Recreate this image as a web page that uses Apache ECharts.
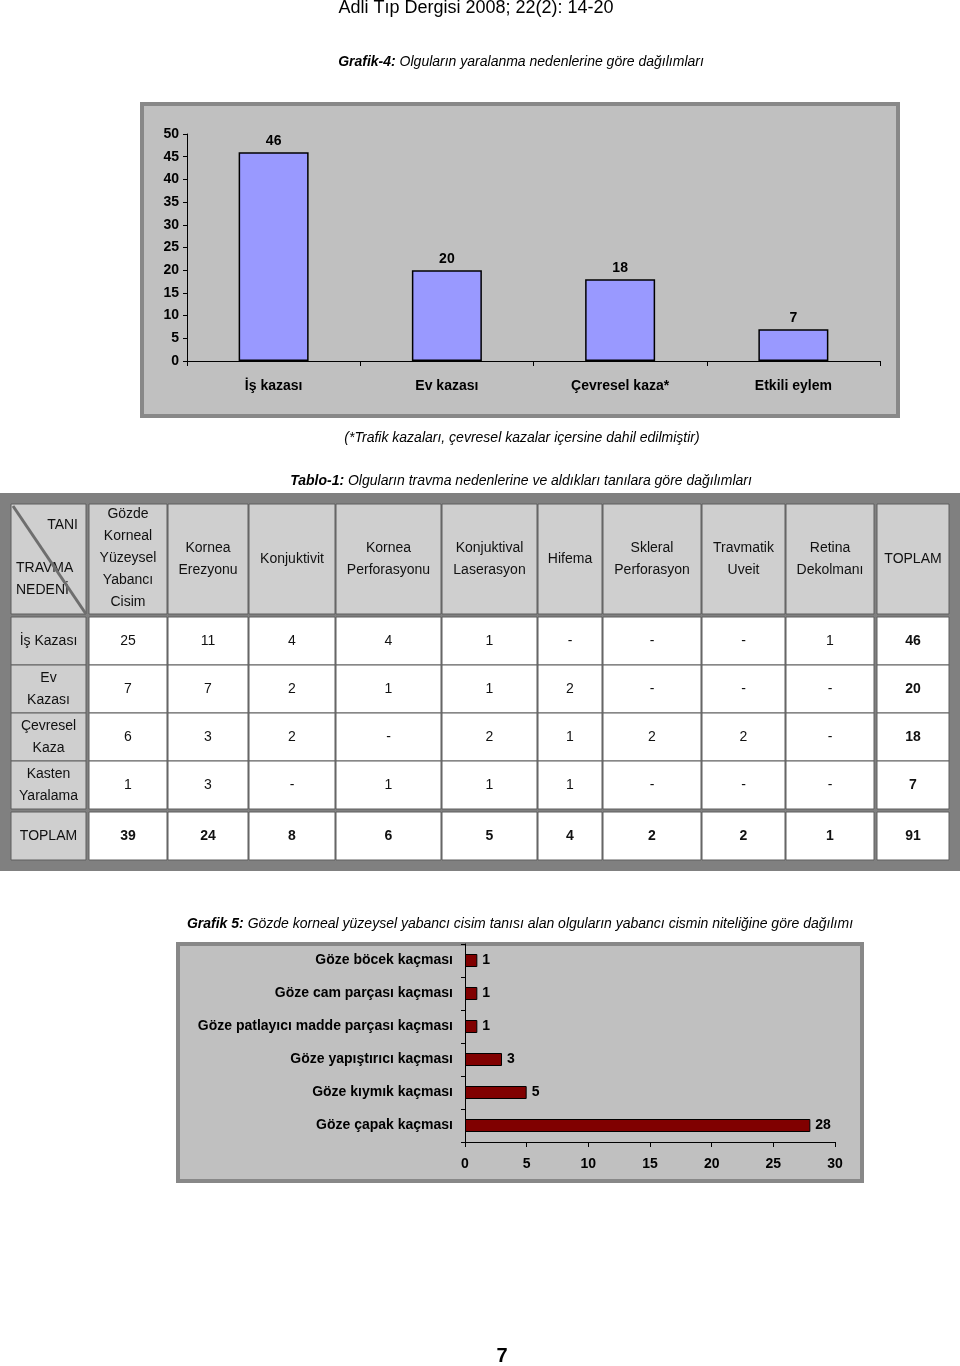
<!DOCTYPE html>
<html><head><meta charset="utf-8">
<script src="https://cdn.jsdelivr.net/npm/echarts@6/dist/echarts.min.js"></script>
<style>html,body{margin:0;padding:0;background:#fff}#c{width:960px;height:1366px}</style>
</head><body><div id="c"></div>
<script>
// ---------- DATA ----------
const causeCategories = ['İş kazası', 'Ev kazası', 'Çevresel kaza*', 'Etkili eylem'];
const causeValues = [46, 20, 18, 7];

const bodyCategories = ['Göze böcek kaçması', 'Göze cam parçası kaçması', 'Göze patlayıcı madde parçası kaçması',
  'Göze yapıştırıcı kaçması', 'Göze kıymık kaçması', 'Göze çapak kaçması'];
const bodyValues = [1, 1, 1, 3, 5, 28];

const tableColumns = ['Gözde\nKorneal\nYüzeysel\nYabancı\nCisim', 'Kornea\nErezyonu', 'Konjuktivit',
  'Kornea\nPerforasyonu', 'Konjuktival\nLaserasyon', 'Hifema', 'Skleral\nPerforasyon',
  'Travmatik\nUveit', 'Retina\nDekolmanı', 'TOPLAM'];
const tableRows = ['İş Kazası', 'Ev\nKazası', 'Çevresel\nKaza', 'Kasten\nYaralama'];
const tableValues = [
  ['25', '11', '4', '4', '1', '-', '-', '-', '1', '46'],
  ['7', '7', '2', '1', '1', '2', '-', '-', '-', '20'],
  ['6', '3', '2', '-', '2', '1', '2', '2', '-', '18'],
  ['1', '3', '-', '1', '1', '1', '-', '-', '-', '7']
];
const totalLabel = 'TOPLAM';
const tableTotals = ['39', '24', '8', '6', '5', '4', '2', '2', '1', '91'];

// ---------- LAYOUT (page units used by hidden table axes) ----------
const FONT = '"Liberation Sans", Arial, sans-serif';
const colEdges = [[11, 86], [89, 167], [168, 248], [249, 335], [336, 441], [442, 537], [538, 602],
  [603, 701], [702, 785], [786, 874], [877, 949]];
const rowEdges = [[504, 614], [617, 665], [665, 713], [713, 761], [761, 809], [812, 860]];

// build table cell items: [col, row, text, kind]
const cells = [];
cells.push([0, 0, '', 'corner']);
tableColumns.forEach((t, i) => cells.push([i + 1, 0, t, 'head']));
tableRows.forEach((r, ri) => {
  cells.push([0, ri + 1, r, 'rowhead']);
  tableValues[ri].forEach((v, ci) => cells.push([ci + 1, ri + 1, v, ci === tableColumns.length - 1 ? 'bold' : 'val']));
});
cells.push([0, tableRows.length + 1, totalLabel, 'rowhead']);
tableTotals.forEach((v, ci) => cells.push([ci + 1, tableRows.length + 1, v, 'bold']));

const chart = echarts.init(document.getElementById('c'), null, {renderer: 'canvas'});

function renderCell(params, api) {
  const c = api.value(0), r = api.value(1);
  const d = cells[params.dataIndex];
  const kind = d[3], text = d[2];
  const p0 = api.coord([colEdges[c][0], rowEdges[r][0]]);
  const p1 = api.coord([colEdges[c][1], rowEdges[r][1]]);
  const w = p1[0] - p0[0], h = p1[1] - p0[1];
  const fill = (kind === 'head' || kind === 'rowhead' || kind === 'corner') ? '#cfcfcf' : '#ffffff';
  const children = [{
    type: 'rect', shape: {x: p0[0], y: p0[1], width: w, height: h},
    style: {fill: fill, stroke: '#5e5e5e', lineWidth: 1}
  }];
  if (kind === 'corner') {
    children.push({type: 'text', style: {text: 'TANI', x: p0[0] + 67, y: p0[1] + 21, align: 'right', verticalAlign: 'middle',
      font: '14px ' + FONT, fill: '#111'}});
    children.push({type: 'text', style: {text: 'TRAVMA\nNEDENİ', x: p0[0] + 5, y: p0[1] + 75, align: 'left', verticalAlign: 'middle',
      font: '14px ' + FONT, fill: '#111', lineHeight: 22}});
    children.push({type: 'line', shape: {x1: p0[0] + 2, y1: p0[1] + 2, x2: p1[0], y2: p1[1]},
      style: {stroke: '#6e6e6e', lineWidth: 3}});
  } else {
    children.push({type: 'text', style: {text: text, x: p0[0] + w / 2, y: p0[1] + h / 2 + (kind === 'head' && text.split('\n').length === 5 ? -1 : 0),
      align: 'center', verticalAlign: 'middle', lineHeight: 22,
      font: (kind === 'bold' ? 'bold ' : '') + '14px ' + FONT, fill: '#111'}});
  }
  return {type: 'group', children: children};
}

const boldLbl = {fontFamily: FONT, fontWeight: 'bold', fontSize: 14, color: '#000'};

const option = {
  animation: false,
  backgroundColor: '#ffffff',
  grid: [
    {left: 187, right: 80, top: 134, bottom: 1366 - 361},
    {left: 465, right: 125, top: 944, bottom: 1366 - 1142},
    {left: 0, top: 493, width: 960, height: 378, show: false}
  ],
  xAxis: [
    {gridIndex: 0, type: 'category', data: causeCategories,
      axisLine: {lineStyle: {color: '#000', width: 1}},
      axisTick: {show: true, length: 5, lineStyle: {color: '#000'}},
      axisLabel: Object.assign({margin: 18}, boldLbl)},
    {gridIndex: 1, type: 'value', min: 0, max: 30, interval: 5,
      splitLine: {show: false},
      axisLine: {show: true, lineStyle: {color: '#000', width: 1}},
      axisTick: {show: true, length: 5, lineStyle: {color: '#000'}},
      axisLabel: Object.assign({margin: 15}, boldLbl)},
    {gridIndex: 2, type: 'value', min: 0, max: 960, show: false}
  ],
  yAxis: [
    {gridIndex: 0, type: 'value', min: 0, max: 50, interval: 5,
      splitLine: {show: false},
      axisLine: {show: true, lineStyle: {color: '#000', width: 1}},
      axisTick: {show: true, length: 4, lineStyle: {color: '#000'}},
      axisLabel: Object.assign({margin: 8}, boldLbl)},
    {gridIndex: 1, type: 'category', data: bodyCategories, inverse: true,
      axisLine: {show: true, lineStyle: {color: '#000', width: 1}},
      axisTick: {show: true, length: 4, lineStyle: {color: '#000'}},
      axisLabel: Object.assign({margin: 12}, boldLbl)},
    {gridIndex: 2, type: 'value', min: 493, max: 871, inverse: true, show: false}
  ],
  series: [
    {type: 'bar', xAxisIndex: 0, yAxisIndex: 0, data: causeValues, barWidth: 70, barGap: '0%',
      itemStyle: {color: '#9999ff', borderColor: '#000', borderWidth: 1.5},
      label: Object.assign({show: true, position: 'top', distance: 4}, boldLbl)},
    {type: 'bar', xAxisIndex: 1, yAxisIndex: 1, data: bodyValues, barWidth: 13,
      itemStyle: {color: '#800000', borderColor: '#000', borderWidth: 1},
      label: Object.assign({show: true, position: 'right', distance: 5}, boldLbl)},
    {type: 'custom', xAxisIndex: 2, yAxisIndex: 2, clip: false, renderItem: renderCell,
      data: cells.map(c => [c[0], c[1]]), z: 3}
  ],
  graphic: [
    {type: 'rect', z: -10, silent: true, shape: {x: 142, y: 104, width: 756, height: 312},
      style: {fill: '#c0c0c0', stroke: '#888888', lineWidth: 4}},
    {type: 'rect', z: -10, silent: true, shape: {x: 0, y: 493, width: 960, height: 378},
      style: {fill: '#808080'}},
    {type: 'rect', z: -10, silent: true, shape: {x: 178, y: 944, width: 684, height: 237},
      style: {fill: '#c0c0c0', stroke: '#888888', lineWidth: 4}},
    {type: 'text', z: 10, style: {text: 'Adli Tıp Dergisi 2008; 22(2): 14-20', x: 476, y: 8, align: 'center', verticalAlign: 'middle',
      font: '18px ' + FONT, fill: '#000'}},
    {type: 'text', z: 10, style: {text: '{b|Grafik-4:}{i| Olguların yaralanma nedenlerine göre dağılımları}', x: 521, y: 62,
      align: 'center', verticalAlign: 'middle',
      rich: {b: {fontFamily: FONT, fontSize: 14, fontWeight: 'bold', fontStyle: 'italic', fill: '#000'},
        i: {fontFamily: FONT, fontSize: 14, fontStyle: 'italic', fill: '#000'}}}},
    {type: 'text', z: 10, style: {text: '(*Trafik kazaları, çevresel kazalar içersine dahil edilmiştir)', x: 522, y: 438,
      align: 'center', verticalAlign: 'middle', font: 'italic 14px ' + FONT, fill: '#000'}},
    {type: 'text', z: 10, style: {text: '{b|Tablo-1:}{i| Olguların travma nedenlerine ve aldıkları tanılara göre dağılımları}', x: 521, y: 481,
      align: 'center', verticalAlign: 'middle',
      rich: {b: {fontFamily: FONT, fontSize: 14, fontWeight: 'bold', fontStyle: 'italic', fill: '#000'},
        i: {fontFamily: FONT, fontSize: 14, fontStyle: 'italic', fill: '#000'}}}},
    {type: 'text', z: 10, style: {text: '{b|Grafik 5:}{i| Gözde korneal yüzeysel yabancı cisim tanısı alan olguların yabancı cismin niteliğine göre dağılımı}', x: 520, y: 924,
      align: 'center', verticalAlign: 'middle',
      rich: {b: {fontFamily: FONT, fontSize: 14, fontWeight: 'bold', fontStyle: 'italic', fill: '#000'},
        i: {fontFamily: FONT, fontSize: 14, fontStyle: 'italic', fill: '#000'}}}},
    {type: 'text', z: 10, style: {text: '7', x: 502, y: 1356, align: 'center', verticalAlign: 'middle',
      font: 'bold 20px ' + FONT, fill: '#000'}}
  ]
};
chart.setOption(option);
</script>
</body></html>
